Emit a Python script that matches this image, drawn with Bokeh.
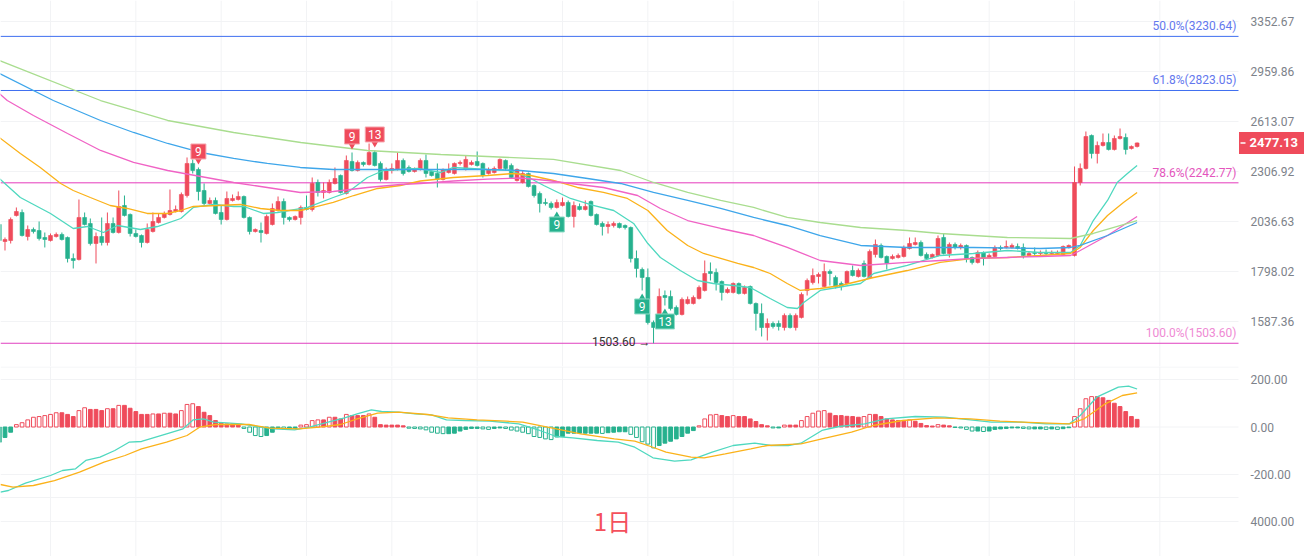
import math
from bokeh.plotting import figure
from bokeh.layouts import column
from bokeh.models import Range1d, Label, ColumnDataSource
from bokeh.core.properties import value
from bokeh.embed import file_html
from bokeh.resources import INLINE

# ---------------- data ----------------
open_ = [
    2021.5, 1937.6, 1942.5, 2067.5, 2082.9, 1961.9, 1996.5, 1991.5, 1957.0, 1942.5,
    1961.9, 1971.8, 1957.0, 1857.4, 1852.7, 2057.2, 2026.6, 1928.0, 1961.9, 1932.8,
    2026.6, 1981.6, 2119.6, 2072.6, 1976.7, 1966.8, 1932.8, 1986.5, 2031.6, 2057.2,
    2072.6, 2088.1, 2088.1, 2173.0, 2353.6, 2318.6, 2200.3, 2130.2, 2146.2, 2082.9,
    2046.9, 2146.2, 2151.5, 2167.6, 2057.2, 1986.5, 1991.5, 1976.7, 2021.5, 2093.3,
    2140.8, 2057.2, 2046.9, 2057.2, 2109.1, 2098.6, 2244.6, 2189.4, 2189.4, 2239.0,
    2284.1, 2183.9, 2365.3, 2312.7, 2359.4, 2347.7, 2418.9, 2353.6, 2261.5, 2312.7,
    2318.6, 2371.2, 2330.2, 2306.9, 2318.6, 2371.2, 2306.9, 2295.5, 2261.5, 2301.2,
    2295.5, 2353.6, 2318.6, 2347.7, 2365.3, 2353.6, 2295.5, 2301.2, 2324.4, 2371.2,
    2341.8, 2255.8, 2244.6, 2295.5, 2227.9, 2183.9, 2135.5, 2130.2, 2109.1, 2119.6,
    2135.5, 2062.3, 2114.3, 2098.6, 2140.8, 2072.6, 2026.6, 2011.4, 2016.5, 2026.6,
    2016.5, 2006.4, 1857.4, 1807.1, 1771.4, 1583.4, 1563.8, 1693.7, 1689.5, 1643.8,
    1615.4, 1660.3, 1660.3, 1681.1, 1715.0, 1798.0, 1793.6, 1753.8, 1706.5, 1706.5,
    1745.1, 1702.2, 1732.1, 1660.3, 1619.5, 1563.8, 1579.5, 1579.5, 1563.8, 1611.4,
    1563.8, 1603.4, 1715.0, 1749.5, 1775.8, 1732.1, 1798.0, 1771.4, 1745.1, 1745.1,
    1802.5, 1775.8, 1834.4, 1771.4, 1876.0, 1918.5, 1866.6, 1857.4, 1862.0, 1866.6,
    1904.2, 1923.3, 1932.8, 1876.0, 1862.0, 1871.3, 1957.0, 1880.6, 1923.3, 1909.0,
    1918.5, 1862.0, 1839.0, 1885.3, 1862.0, 1866.6, 1909.0, 1909.0, 1909.0, 1913.7,
    1909.0, 1871.3, 1885.3, 1880.6, 1885.3, 1880.6, 1880.6, 1876.0, 1909.0, 1871.3,
    2244.6, 2324.4, 2523.5, 2412.9, 2461.5, 2479.9, 2437.0, 2504.8, 2511.0, 2443.1,
    2455.3]
high = [
    2031.6, 1957.0, 2057.2, 2109.1, 2098.6, 2016.5, 2006.4, 2036.6, 1981.6, 1976.7,
    1981.6, 1981.6, 1961.9, 1880.6, 2151.5, 2082.9, 2052.0, 1981.6, 2057.2, 2082.9,
    2057.2, 2200.3, 2173.0, 2077.8, 1996.5, 1971.8, 2026.6, 2082.9, 2077.8, 2088.1,
    2205.8, 2119.6, 2189.4, 2389.0, 2377.2, 2330.2, 2239.0, 2162.2, 2162.2, 2119.6,
    2194.8, 2178.5, 2194.8, 2173.0, 2062.3, 2001.5, 2031.6, 2072.6, 2130.2, 2167.6,
    2156.9, 2062.3, 2067.5, 2119.6, 2173.0, 2272.8, 2261.5, 2244.6, 2261.5, 2330.2,
    2289.8, 2400.9, 2418.9, 2371.2, 2365.3, 2473.7, 2431.0, 2365.3, 2330.2, 2353.6,
    2418.9, 2383.1, 2341.8, 2330.2, 2383.1, 2406.9, 2312.7, 2353.6, 2324.4, 2353.6,
    2359.4, 2371.2, 2400.9, 2371.2, 2424.9, 2359.4, 2330.2, 2336.0, 2383.1, 2377.2,
    2353.6, 2324.4, 2312.7, 2301.2, 2233.5, 2194.8, 2156.9, 2140.8, 2151.5, 2162.2,
    2146.2, 2140.8, 2130.2, 2146.2, 2146.2, 2077.8, 2036.6, 2036.6, 2036.6, 2031.6,
    2021.5, 2011.4, 1894.7, 1816.1, 1811.6, 1591.4, 1723.5, 1715.0, 1715.0, 1652.0,
    1685.3, 1689.5, 1693.7, 1736.4, 1848.1, 1839.0, 1811.6, 1758.2, 1727.8, 1749.5,
    1749.5, 1736.4, 1736.4, 1664.5, 1660.3, 1599.4, 1587.4, 1591.4, 1619.5, 1619.5,
    1619.5, 1706.5, 1767.0, 1811.6, 1793.6, 1834.4, 1807.1, 1780.2, 1753.8, 1802.5,
    1825.2, 1811.6, 1848.1, 1899.5, 1947.3, 1928.0, 1871.3, 1876.0, 1880.6, 1918.5,
    1957.0, 1957.0, 1942.5, 1885.3, 1880.6, 1966.8, 1976.7, 1932.8, 1932.8, 1928.0,
    1923.3, 1866.6, 1894.7, 1890.0, 1880.6, 1918.5, 1918.5, 1942.5, 1928.0, 1928.0,
    1928.0, 1890.0, 1909.0, 1894.7, 1899.5, 1894.7, 1894.7, 1918.5, 1923.3, 2336.0,
    2353.6, 2548.8, 2529.9, 2486.1, 2536.2, 2536.2, 2523.5, 2568.0, 2536.2, 2461.5,
    2479.9]
low = [
    1932.8, 1894.7, 1928.0, 2062.3, 1961.9, 1942.5, 1976.7, 1942.5, 1909.0, 1937.6,
    1957.0, 1942.5, 1839.0, 1811.6, 1848.1, 2016.5, 1918.5, 1834.4, 1918.5, 1918.5,
    1976.7, 1976.7, 2062.3, 1961.9, 1957.0, 1909.0, 1928.0, 1981.6, 2026.6, 2052.0,
    2067.5, 2082.9, 2082.9, 2162.2, 2295.5, 2146.2, 2119.6, 2124.9, 2072.6, 2021.5,
    2041.7, 2140.8, 2146.2, 2052.0, 1971.8, 1981.6, 1932.8, 1971.8, 2016.5, 2088.1,
    2021.5, 2036.6, 2041.7, 2021.5, 2093.3, 2088.1, 2167.6, 2156.9, 2183.9, 2233.5,
    2183.9, 2178.5, 2306.9, 2306.9, 2336.0, 2341.8, 2336.0, 2250.2, 2255.8, 2295.5,
    2312.7, 2284.1, 2301.2, 2301.2, 2312.7, 2272.8, 2278.4, 2216.8, 2255.8, 2295.5,
    2289.8, 2341.8, 2312.7, 2341.8, 2336.0, 2272.8, 2289.8, 2295.5, 2318.6, 2312.7,
    2267.1, 2250.2, 2239.0, 2216.8, 2162.2, 2082.9, 2119.6, 2098.6, 2103.8, 2114.3,
    2057.2, 2006.4, 2093.3, 2093.3, 2062.3, 2016.5, 1966.8, 1976.7, 2006.4, 2001.5,
    1996.5, 1839.0, 1771.4, 1715.0, 1575.5, 1503.6, 1559.9, 1652.0, 1631.6, 1611.4,
    1611.4, 1656.2, 1656.2, 1676.9, 1710.7, 1758.2, 1715.0, 1672.8, 1702.2, 1702.2,
    1698.0, 1698.0, 1656.2, 1552.1, 1529.2, 1514.0, 1559.9, 1552.1, 1552.1, 1559.9,
    1552.1, 1599.4, 1693.7, 1740.8, 1745.1, 1727.8, 1736.4, 1723.5, 1715.0, 1740.8,
    1775.8, 1771.4, 1771.4, 1767.0, 1862.0, 1857.4, 1807.1, 1852.7, 1857.4, 1862.0,
    1899.5, 1918.5, 1866.6, 1852.7, 1857.4, 1866.6, 1876.0, 1862.0, 1899.5, 1899.5,
    1839.0, 1829.8, 1834.4, 1825.2, 1857.4, 1862.0, 1894.7, 1904.2, 1904.2, 1899.5,
    1857.4, 1866.6, 1866.6, 1871.3, 1871.3, 1876.0, 1876.0, 1871.3, 1904.2, 1866.6,
    2227.9, 2318.6, 2383.1, 2353.6, 2455.3, 2431.0, 2431.0, 2498.6, 2406.9, 2437.0,
    2449.2]
close = [
    1942.5, 1947.3, 2046.9, 2088.1, 1966.8, 1996.5, 1986.5, 1952.2, 1947.3, 1966.8,
    1971.8, 1947.3, 1857.4, 1848.1, 2057.2, 2021.5, 1928.0, 1961.9, 1932.8, 2026.6,
    1981.6, 2114.3, 2067.5, 1976.7, 1961.9, 1932.8, 1996.5, 2036.6, 2057.2, 2077.8,
    2093.3, 2098.6, 2178.5, 2353.6, 2312.7, 2194.8, 2130.2, 2146.2, 2077.8, 2046.9,
    2156.9, 2156.9, 2167.6, 2057.2, 1986.5, 1996.5, 1981.6, 2062.3, 2103.8, 2140.8,
    2057.2, 2046.9, 2062.3, 2109.1, 2098.6, 2239.0, 2189.4, 2200.3, 2244.6, 2267.1,
    2189.4, 2371.2, 2312.7, 2359.4, 2347.7, 2418.9, 2341.8, 2261.5, 2318.6, 2324.4,
    2371.2, 2295.5, 2306.9, 2318.6, 2371.2, 2295.5, 2284.1, 2261.5, 2318.6, 2318.6,
    2353.6, 2359.4, 2377.2, 2359.4, 2341.8, 2284.1, 2318.6, 2324.4, 2377.2, 2324.4,
    2272.8, 2318.6, 2295.5, 2222.3, 2173.0, 2130.2, 2130.2, 2109.1, 2135.5, 2135.5,
    2062.3, 2119.6, 2098.6, 2114.3, 2067.5, 2021.5, 2011.4, 2021.5, 2026.6, 2006.4,
    2006.4, 1857.4, 1811.6, 1771.4, 1583.4, 1563.8, 1689.5, 1685.3, 1639.7, 1615.4,
    1676.9, 1676.9, 1685.3, 1727.8, 1789.1, 1789.1, 1749.5, 1706.5, 1719.3, 1745.1,
    1702.2, 1727.8, 1660.3, 1619.5, 1563.8, 1579.5, 1567.7, 1567.7, 1611.4, 1563.8,
    1611.4, 1698.0, 1758.2, 1780.2, 1784.7, 1798.0, 1789.1, 1732.1, 1732.1, 1798.0,
    1780.2, 1802.5, 1775.8, 1890.0, 1923.3, 1862.0, 1834.4, 1866.6, 1871.3, 1909.0,
    1928.0, 1932.8, 1871.3, 1857.4, 1876.0, 1952.2, 1880.6, 1923.3, 1909.0, 1918.5,
    1857.4, 1839.0, 1885.3, 1857.4, 1871.3, 1909.0, 1904.2, 1913.7, 1918.5, 1904.2,
    1871.3, 1880.6, 1880.6, 1885.3, 1880.6, 1885.3, 1885.3, 1913.7, 1918.5, 2244.6,
    2324.4, 2517.2, 2412.9, 2461.5, 2479.9, 2437.0, 2504.8, 2517.2, 2437.0, 2455.3,
    2477.13]

# moving averages (sampled along the lines)
ma1_x = [0, 3.7, 9, 13, 15.5, 18.3, 20.8, 24.8, 27.8, 31.9, 34.1, 37.7, 41.2, 43, 46.4, 48.9,
         54.2, 58.7, 61.2, 64.7, 67.5, 73.5, 77.6, 79.8, 85.8, 89.9, 93.4, 95.7, 100.4, 104.4,
         108, 111.5, 114, 116.2, 119.7, 122.7, 125.5, 129, 132, 135.5, 138.5, 140.3, 141.4,
         144.3, 147.3, 151.4, 153.7, 159.6, 165.4, 171.2, 177.2, 183, 188.3, 190, 192.3,
         194.8, 196.5, 198.3, 200]
ma1_y = [2267.1, 2162.2, 2077.8, 2001.5, 2011.4, 1981.6, 2016.5, 1996.5, 2011.4, 2052.0,
         2109.1, 2124.9, 2114.3, 2114.3, 2077.8, 2082.9, 2109.1, 2162.2, 2189.4, 2272.8,
         2312.7, 2324.4, 2301.2, 2330.2, 2318.6, 2312.7, 2267.1, 2227.9, 2156.9, 2119.6,
         2093.3, 2026.6, 1928.0, 1862.0, 1802.5, 1758.2, 1745.1, 1736.4, 1727.8, 1681.1,
         1643.8, 1639.7, 1664.5, 1715.0, 1727.8, 1745.1, 1789.1, 1825.2, 1871.3, 1880.6,
         1894.7, 1885.3, 1885.3, 1918.5, 2041.7, 2146.2, 2244.6, 2295.5, 2341.8]
ma2_x = [0, 3.7, 7.2, 10.8, 13, 16, 19.5, 22.5, 26, 29.6, 31.9, 34.1, 38.4, 42.4, 45.9, 49.4,
         53, 55.2, 58.7, 62.3, 66.5, 70.5, 74, 79.8, 85.8, 90.4, 93.4, 97.4, 101.6, 106.2,
         110.4, 114, 117.4, 121, 123.8, 126.8, 129.8, 132.6, 135.5, 138.5, 140.8, 144.3,
         147.9, 153.7, 159.6, 165.4, 171.2, 177.2, 183, 188.3, 190, 192.3, 194.8, 197.6, 200]
ma2_y = [2511.0, 2412.9, 2330.2, 2239.0, 2200.3, 2162.2, 2119.6, 2103.8, 2077.8, 2077.8,
         2093.3, 2114.3, 2119.6, 2124.9, 2103.8, 2093.3, 2093.3, 2109.1, 2135.5, 2173.0,
         2211.3, 2227.9, 2253.0, 2272.8, 2284.1, 2295.5, 2284.1, 2255.8, 2216.8, 2189.4,
         2156.9, 2093.3, 1991.5, 1918.5, 1880.6, 1857.4, 1834.4, 1816.1, 1789.1, 1745.1,
         1715.0, 1723.5, 1736.4, 1771.4, 1802.5, 1839.0, 1857.4, 1862.0, 1871.3, 1880.6,
         1909.0, 1991.5, 2067.5, 2135.5, 2189.4]
ma3_x = [0, 1.4, 6, 12, 17.8, 23.6, 29.6, 35.4, 41.2, 47.1, 52.9, 58.7, 64.7, 70.5, 74,
         79.8, 85.8, 91.6, 96.4, 100.4, 106.2, 112.2, 116.2, 121, 126.8, 132.6, 138.5, 144.3,
         151.4, 159.6, 165.4, 171.2, 177.2, 183, 188.3, 190, 194.8, 200]
ma3_y = [2802.0, 2753.4, 2652.4, 2536.2, 2431.0, 2359.4, 2312.7, 2278.4, 2244.6, 2216.8,
         2189.4, 2194.8, 2216.8, 2233.5, 2239.0, 2253.0, 2264.0, 2270.0, 2255.8, 2239.0,
         2216.8, 2173.0, 2103.8, 2041.7, 2001.5, 1966.8, 1909.0, 1848.1, 1825.2, 1839.0,
         1848.1, 1857.4, 1862.0, 1866.6, 1871.3, 1894.7, 1966.8, 2062.3]
ma4_x = [0, 9.5, 17.8, 23.6, 29.6, 35.4, 41.2, 47.1, 52.9, 58.7, 74, 85.8, 91.6, 97.4, 103.4,
         109.2, 115, 121, 126.8, 132.6, 138.5, 144.3, 151.4, 159.6, 171.2, 183, 188.3, 190,
         194.8, 200]
ma4_y = [2945.2, 2753.4, 2619.7, 2542.5, 2473.7, 2418.9, 2383.1, 2353.6, 2330.2, 2318.6,
         2318.6, 2318.6, 2312.7, 2295.5, 2267.1, 2239.0, 2189.4, 2146.2, 2103.8, 2057.2,
         2016.5, 1966.8, 1918.5, 1909.0, 1909.0, 1904.2, 1909.0, 1918.5, 1966.8, 2031.6]
ma5_x = [0, 17.8, 29.6, 41.2, 53, 64.7, 77.6, 85.8, 97.4, 109.2, 115, 121, 126.8, 132.6,
         138.5, 144.3, 151.4, 159.6, 165.4, 171.2, 177.2, 188.3, 192.3, 200]
ma5_y = [3042.1, 2753.4, 2619.7, 2542.5, 2479.9, 2431.0, 2406.9, 2394.9, 2377.2, 2312.7,
         2244.6, 2189.4, 2146.2, 2109.1, 2057.2, 2031.6, 2006.4, 1991.5, 1976.7, 1966.8,
         1957.0, 1952.2, 1976.7, 2041.7]

fib_levels = [3230.64, 2823.05, 2242.77, 1503.60]
fib_names = ["50.0%", "61.8%", "78.6%", "100.0%"]
price_ticks = [3352.67, 2959.86, 2613.07, 2306.92, 2036.63, 1798.02, 1587.36]

macd_hist = [
    -64, -44, -22, 10, 18, 30, 41, 44, 48, 53,
    60, 60, 53, 44, 69, 81, 74, 74, 69, 77,
    77, 91, 91, 79, 65, 53, 53, 55, 55, 58,
    58, 55, 69, 95, 98, 86, 62, 48, 27, 16,
    13, 13, 10, -6, -22, -36, -40, -36, -22, -6,
    -8, -8, -6, 8, 10, 27, 30, 30, 41, 41,
    34, 53, 48, 48, 48, 55, 41, 10, 8, 8,
    8, 5, -5, -6, -8, -12, -22, -26, -28, -28,
    -26, -17, -10, -6, -6, -8, -10, -6, -4, -6,
    -13, -17, -22, -28, -40, -44, -50, -53, -42, -40,
    -26, -26, -26, -26, -26, -26, -27, -24, -22, -20,
    -20, -31, -44, -62, -72, -88, -78, -68, -60, -50,
    -40, -26, -15, 5, 34, 51, 53, 48, 44, 48,
    44, 44, 34, 23, 10, 5, -4, -4, 8, 8,
    8, 27, 44, 58, 67, 69, 58, 48, 48, 45,
    44, 41, 44, 53, 53, 44, 34, 30, 27, 24,
    30, 24, 15, 6, 4, 10, 8, 5, -2, -4,
    -10, -17, -17, -19, -17, -10, -8, -6, -4, -4,
    -6, -8, -8, -8, -10, -8, -10, -7, -3, 44,
    77, 119, 128, 128, 123, 112, 100, 86, 65, 44,
    32]
dif_x = [0.2, 1.6, 4.6, 9, 11.1, 13.4, 15.2, 17.7, 20.3, 22.8, 25, 29.4, 32.3, 34.1, 35.9,
         37.7, 39.9, 42.5, 45.4, 48.3, 51.9, 54.5, 57.8, 60.7, 62.9, 65.4, 67.2, 70.2, 73.1,
         76, 78.6, 81.8, 86.2, 91.3, 95, 97.9, 100.8, 105.1, 108.8, 111.7, 114.9, 118.7,
         121.6, 125.3, 129, 132.8, 135.7, 138.7, 140.9, 144.6, 147.6, 152.1, 155.8, 161,
         166.2, 170.7, 174.4, 179.6, 184, 188.1, 190, 192.9, 196.7, 198.5, 200]
dif_y = [-274.5, -267.4, -236.6, -204.2, -183.2, -176, -141, -127.2, -98.9, -64, -61, -28.6,
         -7.6, 30.3, 34.5, 20.2, 17.7, 13.5, 2.1, -7.6, -11.8, -0.8, 20.2, 38.7, 55.6, 72.4,
         65.3, 62.3, 55.6, 51.4, 30.3, 27.4, 24.4, 13.5, -14.7, -40, -45.5, -56.8, -64, -85,
         -129.7, -144, -138.1, -106.1, -77.9, -68.2, -77.9, -77.9, -68.2, -14.7, 2.1, 13.5,
         34.5, 44.2, 41.3, 30.3, 20.2, 20.2, 13.5, 13.5, 48.4, 125.5, 167.6, 172, 160]
dea_x = [0.2, 2.4, 6, 9.7, 14.1, 18.4, 22.1, 25, 29.4, 33, 35.2, 38.1, 43.9, 47.6, 52.7,
         56.3, 60, 62.9, 66.5, 70.2, 75.3, 78.9, 84, 89.1, 92, 97.9, 102.2, 108.1, 111.7,
         114.5, 117.2, 121.6, 123.9, 127.6, 132.1, 135, 140.9, 144.6, 149.8, 153.6, 158.8,
         164.7, 170.7, 175.9, 183.3, 188.1, 190.7, 194.4, 197.4, 200]
dea_y = [-242.1, -253.5, -246.3, -225.3, -190.3, -148.2, -120, -91.8, -64, -35.8, -0.8, 10.5,
         10.5, -5.1, -7.6, -0.8, 10.5, 34.5, 58.1, 62.3, 52.6, 38.7, 30.3, 24.4, 20.2, -7.6,
         -28.6, -49.7, -59.8, -82.1, -106.1, -127.2, -129.7, -112.8, -91.8, -77.9, -70.7,
         -49.7, -21.9, 6.3, 27.4, 38.7, 34.5, 24.4, 17.7, 13.5, 34.5, 97.7, 132.6, 144]
macd_ticks = [200, 0, -200, -398]
macd_tick_labels = ["200.00", "0.00", "-200.00", "4000.00"]

td_sell_idx = [35, 62, 66]
td_sell_lbl = ["9", "9", "13"]
td_buy_idx = [98, 113, 117]
td_buy_lbl = ["9", "9", "13"]
period_label = "1日"

# ---------------- styling / layout ----------------
RED = "#ef4b5b"
GREEN = "#26b18e"
AXIS_TXT = "#7d828a"
GRID = "#f2f3f5"
MA_COLORS = ["#4fd8bf", "#fbb21a", "#f063c5", "#3ea6ea", "#a9dd8f"]
FIB_LINE = ["#3f6ff0", "#3f6ff0", "#e53bbd", "#e040c0"]
FIB_TXT = ["#6478ee", "#6478ee", "#e455bd", "#ef8ad4"]
FONT = "Roboto"

W = 1304
MAIN_H = 366
MACD_H = 190
STEP = 5.689                     # pixels per candle
X0 = 1.2 / STEP                  # index at the left edge
X1 = X0 + W / STEP               # index at the right edge
XE = X0 + 1238 / STEP            # index where the plotting area ends (axis strip follows)
PXI = 1.0 / STEP                 # index units per pixel
Y1 = 3532.8                      # price at top edge (log scale)
Y0 = 1419.0                      # price at bottom edge
K = math.log(Y1 / Y0) / MAIN_H   # log units per pixel
MY1 = (426.5 - 366) / 0.2375
MY0 = -(556 - 426.5) / 0.2375
vgrid = [9 + 15 * k for k in range(14)]


def base_fig(h, yr, log):
    f = figure(frame_width=W, frame_height=h, x_range=Range1d(X0, X1), y_range=yr,
               y_axis_type="log" if log else "linear", y_axis_location=None,
               x_axis_location=None, output_backend="svg", toolbar_location=None, tools="",
               min_border=0, outline_line_color=None,
               background_fill_color="white", border_fill_color="white")
    f.grid.visible = False
    return f


def axis_labels(f, ys, labels):
    f.text([XE + 12 * PXI] * len(ys), ys, text=labels, text_color=AXIS_TXT,
           text_align="left", text_baseline="middle", text_font=value(FONT),
           text_font_size="12px")


# ---------------- main price panel ----------------
p = base_fig(MAIN_H, Range1d(Y0, Y1), True)

# grid
p.segment(x0=[X0] * len(price_ticks), y0=price_ticks, x1=[XE] * len(price_ticks),
          y1=price_ticks, line_color=GRID, line_width=1)
p.segment(x0=vgrid, y0=[Y0] * len(vgrid), x1=vgrid, y1=[Y1] * len(vgrid),
          line_color=GRID, line_width=1)
# fib levels
p.segment(x0=[X0] * 4, y0=fib_levels, x1=[XE] * 4, y1=fib_levels, line_color=FIB_LINE,
          line_width=1)

idx = list(range(len(close)))
up = [c >= o for o, c in zip(open_, close)]
csrc = ColumnDataSource(dict(
    x=idx, high=high, low=low,
    top=[max(o, c) for o, c in zip(open_, close)],
    bottom=[min(o, c) for o, c in zip(open_, close)],
    color=[RED if u else GREEN for u in up]))
p.segment(x0="x", y0="low", x1="x", y1="high", line_color="color", line_width=1, source=csrc)
p.vbar(x="x", width=0.68, top="top", bottom="bottom", fill_color="color",
       line_color="color", line_width=0.6, source=csrc)

for xs, ys, col in zip([ma1_x, ma2_x, ma3_x, ma4_x, ma5_x],
                       [ma1_y, ma2_y, ma3_y, ma4_y, ma5_y], MA_COLORS):
    p.line(xs, ys, line_color=col, line_width=1.3)

fsrc = ColumnDataSource(dict(
    x=[XE] * len(fib_levels), y=fib_levels,
    t=[f"{n}({v:.2f})" for n, v in zip(fib_names, fib_levels)], c=FIB_TXT))
p.text(x="x", y="y", text="t", text_color="c", source=fsrc, text_align="right",
       text_baseline="bottom", x_offset=-2, y_offset=-3,
       text_font=value(FONT), text_font_size="12px")


def shift(price, px):
    return price * math.exp(px * K)


# TD sequential markers
sx = td_sell_idx
sy_box = [shift(high[i], 16) for i in sx]
sy_ptr = [shift(high[i], 7) for i in sx]
p.scatter(sx, sy_ptr, marker="inverted_triangle", size=7, fill_color=RED, line_color=None)
p.rect(sx, sy_box, width=[15 if len(t) == 1 else 19 for t in td_sell_lbl], height=15,
       width_units="screen", height_units="screen", fill_color=RED, line_color="#f7a6ae")
p.text(sx, sy_box, text=td_sell_lbl, text_color="white", text_align="center",
       text_baseline="middle", text_font=value(FONT), text_font_size="12px")

bx = td_buy_idx
by_box = [shift(low[i], -16) for i in bx]
by_ptr = [shift(low[i], -7) for i in bx]
p.scatter(bx, by_ptr, marker="triangle", size=7, fill_color=GREEN, line_color=None)
p.rect(bx, by_box, width=[15 if len(t) == 1 else 19 for t in td_buy_lbl], height=15,
       width_units="screen", height_units="screen", fill_color=GREEN, line_color="#8fdcc6")
p.text(bx, by_box, text=td_buy_lbl, text_color="white", text_align="center",
       text_baseline="middle", text_font=value(FONT), text_font_size="12px")

# lowest low marker
lo_i = min(idx, key=lambda i: low[i])
p.text([lo_i], [low[lo_i]], text=[f"{low[lo_i]:.2f} →"], text_color="#333333",
       text_align="right", text_baseline="middle", x_offset=-3, y_offset=-1,
       text_font=value(FONT), text_font_size="12px")

# price axis labels
axis_labels(p, price_ticks, [f"{v:.2f}" for v in price_ticks])

# last price tag
last = close[-1]
p.rect([XE + 33 * PXI], [last], width=65, height=22, width_units="screen",
       height_units="screen", fill_color=RED, line_color=None)
p.segment(x0=[XE + 2 * PXI], y0=[last], x1=[XE + 7 * PXI], y1=[last],
          line_color="white", line_width=1.5)
p.text([XE + 11 * PXI], [last], text=[f"{last:.2f}"], text_color="white",
       text_align="left", text_baseline="middle", text_font=value(FONT),
       text_font_size="13px", text_font_style="bold")

# ---------------- MACD panel ----------------
q = base_fig(MACD_H, Range1d(MY0, MY1), False)
grid_lines = macd_ticks + [MY1 - 2.2, -297]
q.segment(x0=[X0] * len(grid_lines), y0=grid_lines, x1=[XE] * len(grid_lines),
          y1=grid_lines, line_color=GRID, line_width=1)
q.segment(x0=vgrid, y0=[MY0] * len(vgrid), x1=vgrid, y1=[MY1] * len(vgrid),
          line_color=GRID, line_width=1)

hcol, hfill = [], []
for i, v in enumerate(macd_hist):
    col = RED if v >= 0 else GREEN
    prev = macd_hist[i - 1] if i > 0 else v
    hollow = (v > prev) if v >= 0 else (v < prev)
    hcol.append(col)
    hfill.append("white" if hollow else col)
hsrc = ColumnDataSource(dict(x=idx, top=[max(v, 0) for v in macd_hist],
                             bottom=[min(v, 0) for v in macd_hist], c=hcol, f=hfill))
q.vbar(x="x", width=0.66, top="top", bottom="bottom", fill_color="f", line_color="c",
       line_width=1, source=hsrc)
q.line(dif_x, dif_y, line_color=MA_COLORS[0], line_width=1.3)
q.line(dea_x, dea_y, line_color=MA_COLORS[1], line_width=1.3)

axis_labels(q, macd_ticks, macd_tick_labels)

q.add_layout(Label(x=X0 + 612 * PXI, y=-393.7, text=period_label, text_align="center",
                   text_baseline="middle", text_color="#f4505c",
                   text_font="Noto Sans CJK SC", text_font_size="24px"))

layout = column(p, q, spacing=0)
open("out.html", "w").write(file_html(layout, INLINE))
